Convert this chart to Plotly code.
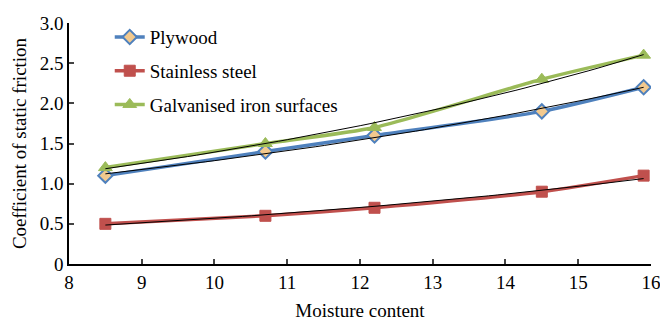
import numpy as np
import plotly.graph_objects as go

moisture = [8.5, 10.7, 12.2, 14.5, 15.9]
plywood = [1.1, 1.4, 1.6, 1.9, 2.2]
stainless = [0.5, 0.6, 0.7, 0.9, 1.1]
galvanised = [1.2, 1.5, 1.7, 2.3, 2.6]

y_tickvals = [0, 0.5, 1.0, 1.5, 2.0, 2.5, 3.0]
y_ticktext = ["0", "0.5", "1.0", "1.5", "2.0", "2.5", "3.0"]
x_tickvals = [8, 9, 10, 11, 12, 13, 14, 15, 16]

font = "Liberation Serif, Times New Roman, serif"
FS = 19

fig = go.Figure()

series = [
    ("Plywood", plywood, "#4F81BD", dict(symbol="diamond", size=11, color="#F2C98E",
                                          line=dict(color="#4F81BD", width=2))),
    ("Stainless steel", stainless, "#C0504D", dict(symbol="square", size=11, color="#C0504D",
                                                   line=dict(color="#C0504D", width=1))),
    ("Galvanised iron surfaces", galvanised, "#9BBB59", dict(symbol="triangle-up", size=12, color="#9BBB59",
                                                             line=dict(color="#9BBB59", width=1))),
]

xs = np.array(moisture)
xfit = np.linspace(min(moisture), max(moisture), 60)
for i, (name, ys, col, mk) in enumerate(series):
    fig.add_trace(go.Scatter(x=moisture, y=ys, mode="lines+markers", name=name, legendgroup=f"g{i}",
                             line=dict(color=col, width=3.5, shape="spline", smoothing=0.6),
                             marker=mk))
for name, ys, col, mk in series:
    b, a = np.polyfit(xs, np.log(ys), 1)
    fig.add_trace(go.Scatter(x=xfit, y=np.exp(a + b * xfit), mode="lines", showlegend=False,
                             line=dict(color="black", width=1), hoverinfo="skip"))

fig.update_layout(
    width=660, height=321,
    margin=dict(l=69, r=9, t=23, b=57),
    paper_bgcolor="white", plot_bgcolor="white",
    font=dict(family=font, size=FS, color="black"),
    legend=dict(x=0.07, y=1.02, xanchor="left", yanchor="top", bgcolor="rgba(0,0,0,0)",
                font=dict(family=font, size=FS), tracegroupgap=6),
    showlegend=True,
)
fig.update_xaxes(range=[8, 16.001], tickvals=x_tickvals, ticks="inside", ticklen=5, tickwidth=1.5,
                 showline=True, linecolor="black", linewidth=1.5, showgrid=False, zeroline=False,
                 automargin=False, ticklabeloverflow="allow",
                 title=dict(text="Moisture content", font=dict(size=FS), standoff=16),
                 tickfont=dict(size=FS))
fig.update_yaxes(range=[0, 3.0], tickvals=y_tickvals, ticktext=y_ticktext, ticks="inside", ticklen=5,
                 tickwidth=1.5, showline=True, linecolor="black", linewidth=1.5, showgrid=False,
                 zeroline=False, automargin=False, ticklabeloverflow="allow",
                 title=dict(text="Coefficient of static friction", font=dict(size=FS), standoff=8),
                 tickfont=dict(size=FS))

fig.write_html("out.html", config={"displayModeBar": False},
               post_script="document.body.style.margin='0';document.body.style.overflow='hidden';")
